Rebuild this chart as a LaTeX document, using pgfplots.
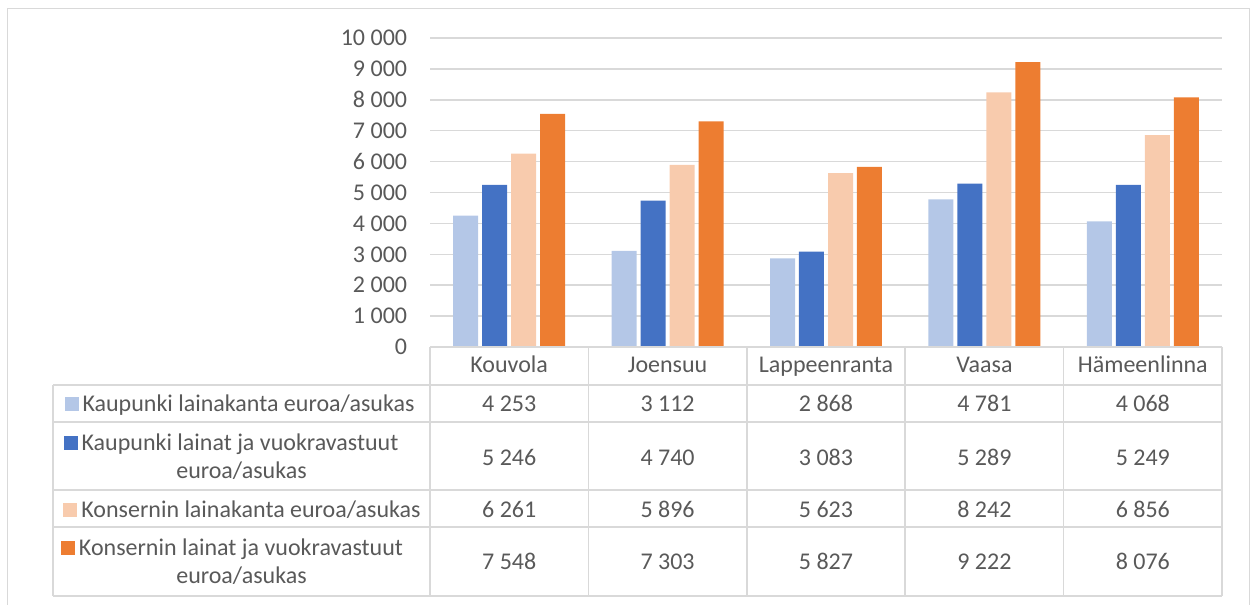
\documentclass[border=0pt]{standalone}
\usepackage{pgfplots}
\pgfplotsset{compat=1.18}
\usepackage{fontspec}
\setmainfont{Carlito}
\definecolor{c1}{HTML}{B4C7E7}
\definecolor{c2}{HTML}{4472C4}
\definecolor{c3}{HTML}{F8CBAD}
\definecolor{c4}{HTML}{ED7D31}
\definecolor{txt}{HTML}{595959}
\definecolor{gridc}{HTML}{D9D9D9}
\newcommand{\sq}[1]{\textcolor{#1}{\rule{10.5pt}{10.5pt}}\hspace{3pt}}
\begin{document}
\begin{tikzpicture}
\useasboundingbox (0,0) rectangle (938.25pt,-453.75pt);
\begin{axis}[
  at={(322.5pt,-260.25pt)}, anchor=south west,
  scale only axis, width=594pt, height=231.75pt,
  xmin=-0.5, xmax=4.5, ymin=0, ymax=10000,
  axis line style={draw=none},
  tick style={draw=none},
  xtick=\empty,
  ytick={0,1000,...,10000},
  scaled y ticks=false,
  yticklabels={0,1 000,2 000,3 000,4 000,5 000,6 000,7 000,8 000,9 000,10 000},
  yticklabel style={inner sep=0pt, xshift=-17pt, text=txt, font=\fontsize{18}{21}\selectfont},
  /pgf/number format/assume math mode=true,
  ymajorgrids,
  grid style={draw=gridc, line width=1.1pt},
  ybar, bar width=18.75pt,
  clip=false,
]
\addplot[fill=c1, draw=none, bar shift=-32.6pt] coordinates {(0,4253) (1,3112) (2,2868) (3,4781) (4,4068)};
\addplot[fill=c2, draw=none, bar shift=-10.9pt] coordinates {(0,5246) (1,4740) (2,3083) (3,5289) (4,5249)};
\addplot[fill=c3, draw=none, bar shift=10.9pt] coordinates {(0,6261) (1,5896) (2,5623) (3,8242) (4,6856)};
\addplot[fill=c4, draw=none, bar shift=32.6pt] coordinates {(0,7548) (1,7303) (2,5827) (3,9222) (4,8076)};
\end{axis}
\begin{scope}[x=0.75pt, y=-0.75pt]
  % outer frame
  \draw[gridc, line width=1.1pt] (7.5,605) -- (7.5,8.5) -- (1249.5,8.5) -- (1249.5,605);
  % table lines
  \begin{scope}[draw=gridc, line width=1.3pt]
    \draw (430,347) -- (1222,347);
    \foreach \yy in {385,422,490,527,596} \draw (53,\yy) -- (1222,\yy);
    \draw (53,385) -- (53,596);
    \foreach \xx in {430,588.4,746.8,905.2,1063.6,1222} \draw (\xx,347) -- (\xx,596);
  \end{scope}
  \begin{scope}[every node/.style={text=txt, font=\fontsize{18}{22}\selectfont, inner sep=0pt, anchor=base}]
    % header
    \node at (509.2,373) {Kouvola};
    \node at (667.6,373) {Joensuu};
    \node at (826,373) {Lappeenranta};
    \node at (984.4,373) {Vaasa};
    \node at (1142.8,373) {Hämeenlinna};
    % legend column
    \node at (239.5,411) {\sq{c1}Kaupunki lainakanta euroa/asukas};
    \node at (231,450) {\sq{c2}Kaupunki lainat ja vuokravastuut};
    \node at (241.5,478) {euroa/asukas};
    \node at (242,517) {\sq{c3}Konsernin lainakanta euroa/asukas};
    \node at (232,555) {\sq{c4}Konsernin lainat ja vuokravastuut};
    \node at (241.5,583) {euroa/asukas};
    % values
    \foreach \xx/\a/\b/\c/\d in {509.2/4 253/5 246/6 261/7 548,
                                 667.6/3 112/4 740/5 896/7 303,
                                 826/2 868/3 083/5 623/5 827,
                                 984.4/4 781/5 289/8 242/9 222,
                                 1142.8/4 068/5 249/6 856/8 076} {
      \node at (\xx,411) {\a};
      \node at (\xx,465) {\b};
      \node at (\xx,517) {\c};
      \node at (\xx,569) {\d};
    }
  \end{scope}
\end{scope}
\end{tikzpicture}
\end{document}
